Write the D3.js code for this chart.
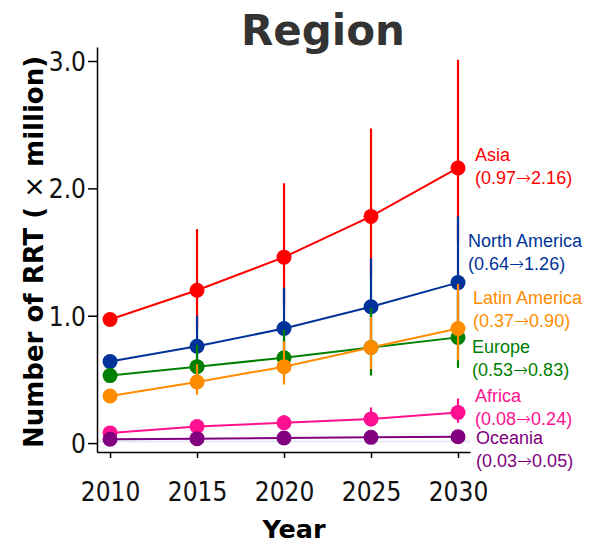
<!DOCTYPE html>
<html>
<head>
<meta charset="utf-8">
<script src="https://cdn.jsdelivr.net/npm/d3@7"></script>
<style>
  html, body { margin: 0; padding: 0; background: #fff; }
  svg { display: block; }
</style>
</head>
<body>
<svg id="chart" width="599" height="545"></svg>
<script>
// Projected number of patients on renal replacement therapy (millions) by region
const years = [2010, 2015, 2020, 2025, 2030];
const regions = ["Asia", "North America", "Europe", "Latin America", "Africa", "Oceania"];
const colors  = ["#ff0000", "#003399", "#008000", "#ff8c00", "#ff1090", "#800080"];

const asia         = [0.97, 1.20, 1.46, 1.78, 2.16];
const northAmerica = [0.64, 0.76, 0.90, 1.07, 1.26];
const europe       = [0.53, 0.60, 0.67, 0.75, 0.83];
const latinAmerica = [0.37, 0.48, 0.60, 0.75, 0.90];
const africa       = [0.08, 0.13, 0.16, 0.19, 0.24];
const oceania      = [0.03, 0.035, 0.04, 0.045, 0.05];

// uncertainty above / below each estimate
const asiaUp   = [0, 0.48, 0.58, 0.69, 0.85];
const asiaDown = [0, 0.31, 0.38, 0.48, 0.58];
const naUp     = [0, 0.24, 0.32, 0.38, 0.52];
const naDown   = [0, 0.17, 0.23, 0.27, 0.36];
const euUp     = [0, 0.17, 0.22, 0.31, 0.34];
const euDown   = [0, 0.12, 0.16, 0.22, 0.24];
const laUp     = [0, 0.14, 0.20, 0.24, 0.35];
const laDown   = [0, 0.10, 0.14, 0.17, 0.25];
const afUp     = [0, 0.04, 0.06, 0.09, 0.11];
const afDown   = [0, 0.03, 0.04, 0.06, 0.08];
const ocUp     = [0, 0.01, 0.015, 0.02, 0.02];
const ocDown   = [0, 0.01, 0.015, 0.02, 0.02];

const yTicks = [0, 1, 2, 3];
const yTickLabels = ["0", "1.0", "2.0", "3.0"];

const seriesValues = [asia, northAmerica, europe, latinAmerica, africa, oceania];
const seriesUp     = [asiaUp, naUp, euUp, laUp, afUp, ocUp];
const seriesDown   = [asiaDown, naDown, euDown, laDown, afDown, ocDown];

const series = regions.map((name, i) => ({
  name, color: colors[i],
  points: years.map((yr, j) => ({
    year: yr, value: seriesValues[i][j],
    hi: seriesValues[i][j] + seriesUp[i][j],
    lo: seriesValues[i][j] - seriesDown[i][j]
  }))
}));

// end-label nudges (px) so the stacked labels do not collide
const labelLayout = {
  "Asia":          { dx: 17, dy: -1 },
  "North America": { dx: 10, dy: -30 },
  "Europe":        { dx: 14, dy: 22 },
  "Latin America": { dx: 15, dy: -18 },
  "Africa":        { dx: 17, dy: -5 },
  "Oceania":       { dx: 18, dy: 13 }
};

const svg = d3.select("#chart");
const x = d3.scaleLinear().domain([2009.25, 2030.69]).range([97, 470]);
const y = d3.scaleLinear().domain([-0.07, 3.11]).range([452, 47]);

const tickFont = "'DejaVu Sans Condensed', 'DejaVu Sans', sans-serif";

// faint baseline at zero
svg.append("line")
  .attr("x1", x.range()[0]).attr("x2", x.range()[1])
  .attr("y1", y(0) - 1.5).attr("y2", y(0) - 1.5)
  .attr("stroke", "#e3eaf2").attr("stroke-width", 2);

// axes
const xAxis = svg.append("g")
  .attr("transform", `translate(0,${y.range()[0]})`)
  .call(d3.axisBottom(x).tickValues(years).tickFormat(d3.format("d"))
        .tickSizeInner(6).tickSizeOuter(0).tickPadding(25));
const yAxis = svg.append("g")
  .attr("transform", `translate(${x.range()[0]},0)`)
  .call(d3.axisLeft(y).tickValues(yTicks).tickFormat((d, i) => yTickLabels[i])
        .tickSizeInner(9).tickSizeOuter(0).tickPadding(2));

[xAxis, yAxis].forEach(g => {
  g.select(".domain").attr("stroke", "#000").attr("stroke-width", 1.5);
  g.selectAll(".tick line").attr("stroke", "#000").attr("stroke-width", 1.5);
  g.selectAll(".tick text")
    .attr("fill", "#111")
    .style("font-family", tickFont)
    .style("font-size", "26px");
});
yAxis.selectAll(".tick text").attr("dy", "0.36em");

const line = d3.line().x(d => x(d.year)).y(d => y(d.value));

series.forEach(s => {
  const g = svg.append("g");
  g.selectAll("line.err")
    .data(s.points.filter(p => p.hi > p.lo))
    .join("line")
    .attr("class", "err")
    .attr("x1", d => x(d.year)).attr("x2", d => x(d.year))
    .attr("y1", d => y(d.hi)).attr("y2", d => y(d.lo))
    .attr("stroke", s.color).attr("stroke-width", 2.2);
  g.append("path")
    .datum(s.points)
    .attr("d", line)
    .attr("fill", "none")
    .attr("stroke", s.color)
    .attr("stroke-width", 2);
  g.selectAll("circle")
    .data(s.points)
    .join("circle")
    .attr("cx", d => x(d.year)).attr("cy", d => y(d.value))
    .attr("r", 7.5)
    .attr("fill", s.color);
});

// end labels: region name and change from first to last year
const fmt = d3.format(".2f");
series.forEach(s => {
  const first = s.points[0].value, last = s.points[s.points.length - 1].value;
  const L = labelLayout[s.name];
  const lx = x(years[years.length - 1]) + L.dx;
  const ly = y(last) + L.dy;
  const t = svg.append("text")
    .attr("fill", s.color)
    .style("font-family", "'Liberation Sans', Arial, sans-serif")
    .style("font-size", "18px");
  t.append("tspan").attr("x", lx).attr("y", ly - 6).text(s.name);
  const t2 = t.append("tspan").attr("x", lx).attr("y", ly + 17);
  t2.append("tspan").text(`(${fmt(first)}`);
  t2.append("tspan").style("font-family", "'DejaVu Sans', sans-serif")
    .style("font-weight", "200").text("\u2192");
  t2.append("tspan").text(`${fmt(last)})`);
});

// titles
svg.append("text")
  .attr("x", 323).attr("y", 45)
  .attr("text-anchor", "middle")
  .attr("fill", "#333")
  .style("font-family", "'DejaVu Sans', sans-serif")
  .style("font-weight", "bold")
  .style("font-size", "42px")
  .text("Region");

svg.append("text")
  .attr("x", 294).attr("y", 538)
  .attr("text-anchor", "middle")
  .attr("fill", "#000")
  .style("font-family", "'DejaVu Sans', sans-serif")
  .style("font-weight", "bold")
  .style("font-size", "25.5px")
  .text("Year");

const yLab = svg.append("text")
  .attr("transform", "translate(43,252) rotate(-90)")
  .attr("text-anchor", "middle")
  .attr("fill", "#000")
  .style("font-family", "'DejaVu Sans', sans-serif")
  .style("font-weight", "bold")
  .style("font-size", "26px");
yLab.append("tspan").text("Number of RRT ( ");
yLab.append("tspan").style("font-weight", "normal").text("\u00d7");
yLab.append("tspan").text(" million)");
</script>
</body>
</html>
